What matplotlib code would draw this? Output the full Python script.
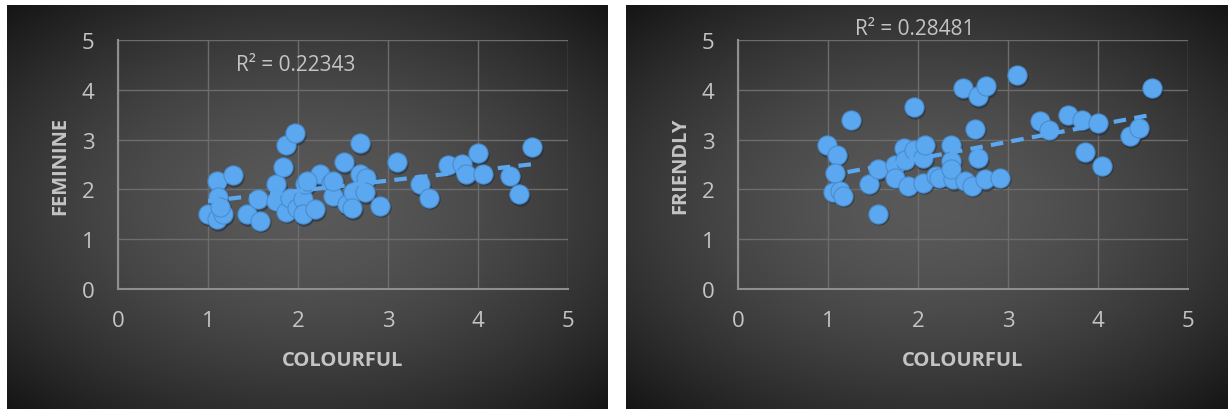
import numpy as np
import matplotlib
matplotlib.use("Agg")
import matplotlib.pyplot as plt

# ---------------- data ----------------
fem_x = [1.00, 1.10, 1.11, 1.10, 1.17, 1.13, 1.28, 1.43, 1.56, 1.58, 1.76, 1.76, 1.83, 1.87,
         1.97, 1.87, 1.91, 1.99, 2.06, 2.06, 2.08, 2.19, 2.24, 2.10, 2.37, 2.39, 2.39, 2.51,
         2.54, 2.61, 2.60, 2.69, 2.69, 2.76, 2.74, 2.91, 3.10, 3.36, 3.45, 3.67, 3.82, 3.87,
         4.00, 4.06, 4.36, 4.45, 4.60]
fem_y = [1.50, 2.17, 1.84, 1.40, 1.50, 1.65, 2.28, 1.50, 1.80, 1.37, 2.10, 1.77, 2.45, 2.90,
         3.13, 1.55, 1.83, 1.63, 1.80, 1.50, 2.10, 1.60, 2.30, 2.17, 2.13, 1.87, 2.17, 2.55,
         1.70, 1.94, 1.62, 2.93, 2.31, 2.23, 1.94, 1.67, 2.55, 2.10, 1.83, 2.50, 2.51, 2.30,
         2.73, 2.31, 2.27, 1.90, 2.85]

fri_x = [0.99, 1.10, 1.08, 1.06, 1.13, 1.17, 1.26, 1.45, 1.56, 1.56, 1.74, 1.74, 1.84, 1.85,
         1.89, 1.95, 1.95, 2.06, 2.06, 2.08, 2.20, 2.23, 2.37, 2.37, 2.39, 2.37, 2.50, 2.52,
         2.60, 2.63, 2.67, 2.67, 2.76, 2.74, 2.91, 3.10, 3.36, 3.45, 3.67, 3.82, 3.86, 4.00,
         4.04, 4.36, 4.45, 4.60]
fri_y = [2.89, 2.70, 2.33, 1.95, 1.97, 1.87, 3.40, 2.11, 2.40, 1.51, 2.50, 2.23, 2.83, 2.60,
         2.07, 3.65, 2.80, 2.63, 2.13, 2.90, 2.27, 2.23, 2.90, 2.57, 2.20, 2.40, 4.03, 2.17,
         2.07, 3.22, 2.63, 3.87, 4.07, 2.20, 2.23, 4.29, 3.37, 3.20, 3.49, 3.40, 2.75, 3.33,
         2.47, 3.07, 3.23, 4.03]

ticks = [0, 1, 2, 3, 4, 5]
x_label = "COLOURFUL"
y_labels = ["FEMININE", "FRIENDLY"]
r2_texts = ["R² = 0.22343", "R² = 0.28481"]

# ---------------- style ----------------
W, H = 1229, 410
fig = plt.figure(figsize=(W / 100, H / 100), dpi=100)
fig.patch.set_facecolor("white")
FONT = ["Open Sans", "DejaVu Sans"]
PT_COL = "#5CA8F0"
GRID = "#6c6c6c"
AXIS = "#8e8e8e"
TXT = "#c4c4c4"


def panel_bg(x0, x1, y0, y1):
    ax = fig.add_axes([x0 / W, 1 - y1 / H, (x1 - x0) / W, (y1 - y0) / H], zorder=0)
    nx, ny = 300, 200
    xx, yy = np.meshgrid(np.linspace(-1, 1, nx), np.linspace(-1, 1, ny))
    r = np.sqrt((xx * 0.85) ** 2 + (yy * 0.9) ** 2)
    c = 0.35 - 0.19 * np.clip(r, 0, 1.3) ** 1.6
    img = np.dstack([c, c, c])
    ax.imshow(img, aspect="auto", extent=[0, 1, 0, 1], interpolation="bilinear")
    ax.set_axis_off()


panel_bg(7, 608, 6, 410)
panel_bg(626, 1228, 6, 410)


def scatter_panel(left_px, xs, ys, ylab, r2, r2_pos):
    ax = fig.add_axes([left_px / W, 1 - 290 / H, 450 / W, 249 / H], zorder=2)
    ax.patch.set_alpha(0)
    ax.set_xlim(0, 5)
    ax.set_ylim(0, 5)
    ax.set_xticks(ticks)
    ax.set_yticks(ticks)
    ax.grid(True, color=GRID, linewidth=1.0)
    ax.set_axisbelow(True)
    for s in ["top", "right"]:
        ax.spines[s].set_visible(False)
    for s in ["left", "bottom"]:
        ax.spines[s].set_color(AXIS)
        ax.spines[s].set_linewidth(1.5)
    ax.tick_params(length=0, colors=TXT, labelsize=16)
    ax.tick_params(axis="x", pad=15)
    ax.tick_params(axis="y", pad=17)
    for lab in ax.get_xticklabels() + ax.get_yticklabels():
        lab.set_family(FONT)
    ax.set_xlabel(x_label, color=TXT, fontsize=14.5, fontweight="bold", family=FONT, labelpad=14)
    ax.set_ylabel(ylab, color=TXT, fontsize=14.5, fontweight="bold", family=FONT, labelpad=8)

    xs = np.asarray(xs)
    ys = np.asarray(ys)
    # shadow
    ax.scatter(xs + 0.012, ys - 0.03, s=215, color="#1e2a36", alpha=0.55, linewidths=0, zorder=3)
    ax.scatter(xs, ys, s=190, color=PT_COL, edgecolors="#4a8ccc", linewidths=0.8, zorder=4)

    k, b = np.polyfit(xs, ys, 1)
    xl = np.array([xs.min(), xs.max()])
    ax.plot(xl, k * xl + b, color=PT_COL, linewidth=3, dashes=(3, 2), zorder=5,
            solid_capstyle="butt")
    ax.text(r2_pos[0], r2_pos[1], r2, color=TXT, fontsize=15, family=FONT,
            ha="center", va="center", clip_on=False, zorder=6)
    return ax


scatter_panel(118, fem_x, fem_y, y_labels[0], r2_texts[0], (1.97, 4.5))
scatter_panel(738, fri_x, fri_y, y_labels[1], r2_texts[1], (1.96, 5.24))

fig.savefig("out.png", dpi=100, facecolor="white")
